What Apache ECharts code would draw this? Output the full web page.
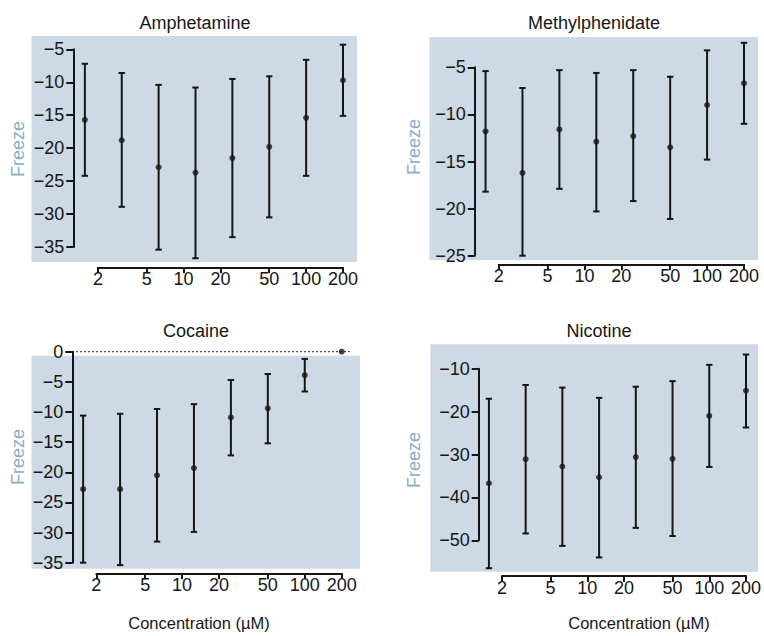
<!DOCTYPE html>
<html>
<head>
<meta charset="utf-8">
<script src="https://cdn.jsdelivr.net/npm/echarts@6/dist/echarts.min.js"></script>
<style>
  html, body { margin: 0; padding: 0; background: #ffffff; }
  #chart { width: 764px; height: 636px; }
</style>
</head>
<body>
<div id="chart"></div>
<script>
// Concentrations (µM) and tick labels shared by all four panels
const concentrations = [1.5625, 3.125, 6.25, 12.5, 25, 50, 100, 200];
const xTickLabels = [2, 5, 10, 20, 50, 100, 200];

// Freeze response: mean with upper / lower error limits
const amphetamineMean  = [-15.7, -18.8, -22.9, -23.7, -21.5, -19.8, -15.4, -9.7];
const amphetamineUpper = [-7.2, -8.6, -10.4, -10.8, -9.5, -9.1, -6.6, -4.3];
const amphetamineLower = [-24.2, -28.9, -35.4, -36.7, -33.5, -30.5, -24.2, -15.1];
const amphetamineYTicks = [-35, -30, -25, -20, -15, -10, -5];

const methylphenidateMean  = [-11.8, -16.2, -11.6, -12.9, -12.3, -13.5, -9.0, -6.7];
const methylphenidateUpper = [-5.4, -7.2, -5.3, -5.6, -5.3, -6.0, -3.2, -2.4];
const methylphenidateLower = [-18.2, -25.0, -17.9, -20.3, -19.2, -21.1, -14.8, -11.0];
const methylphenidateYTicks = [-25, -20, -15, -10, -5];

const cocaineMean  = [-22.8, -22.8, -20.5, -19.3, -10.9, -9.4, -3.9, 0];
const cocaineUpper = [-10.6, -10.3, -9.5, -8.7, -4.7, -3.7, -1.2, 0];
const cocaineLower = [-35.0, -35.4, -31.5, -29.9, -17.2, -15.2, -6.6, 0];
const cocaineYTicks = [-35, -30, -25, -20, -15, -10, -5, 0];

const nicotineMean  = [-36.7, -31.1, -32.8, -35.3, -30.6, -31.0, -21.0, -15.1];
const nicotineUpper = [-17.0, -13.8, -14.4, -16.8, -14.2, -12.9, -9.1, -6.7];
const nicotineLower = [-56.5, -48.4, -51.3, -54.0, -47.1, -49.0, -32.9, -23.7];
const nicotineYTicks = [-50, -40, -30, -20, -10];

const yAxisTitle = 'Freeze';
const xAxisTitle = 'Concentration (µM)';

// Styling
const FONT = '"Liberation Sans", Arial, Helvetica, sans-serif';
const INK = '#161616';
const PANEL_BG = '#cdd9e5';
const NAME_COLOR = '#8badc5';
const TICK_FONT = 18;

// Panel geometry (pixels): background box, plot box spanned by the axes, axis line positions
const panels = [
  { title: 'Amphetamine', mean: amphetamineMean, upper: amphetamineUpper, lower: amphetamineLower, yTicks: amphetamineYTicks,
    bg: [31.5, 36, 357, 262], plot: [98, 49.3, 343, 247], yLineX: 73.3, xLineY: 267.3,
    titlePos: [195, 23], yNamePos: [18, 149], xNamePos: null, zeroLine: false },
  { title: 'Methylphenidate', mean: methylphenidateMean, upper: methylphenidateUpper, lower: methylphenidateLower, yTicks: methylphenidateYTicks,
    bg: [429.5, 37, 758, 260], plot: [498.7, 67.3, 744, 255.7], yLineX: 474.7, xLineY: 264.3,
    titlePos: [594, 23], yNamePos: [414, 147], xNamePos: null, zeroLine: false },
  { title: 'Cocaine', mean: cocaineMean, upper: cocaineUpper, lower: cocaineLower, yTicks: cocaineYTicks,
    bg: [31.5, 355.7, 360, 568.7], plot: [96.3, 351.7, 341.7, 562.7], yLineX: 72.3, xLineY: 573.3,
    titlePos: [196, 331], yNamePos: [18, 457], xNamePos: [199, 623], zeroLine: true },
  { title: 'Nicotine', mean: nicotineMean, upper: nicotineUpper, lower: nicotineLower, yTicks: nicotineYTicks,
    bg: [430.3, 344.3, 758, 571.7], plot: [502, 368.7, 746.5, 540.3], yLineX: 478.7, xLineY: 576,
    titlePos: [599, 331], yNamePos: [414, 460], xNamePos: [639, 623], zeroLine: false }
];

const chart = echarts.init(document.getElementById('chart'), null, { renderer: 'svg' });

const option = {
  animation: false,
  backgroundColor: '#ffffff',
  grid: [], xAxis: [], yAxis: [], series: [], graphic: []
};

const logTicks = xTickLabels.map(v => Math.log10(v));

function textEl(text, x, y, size, color, rotation) {
  return {
    type: 'text', x: x, y: y, rotation: rotation || 0, silent: true,
    style: {
      text: text, fill: color, font: size + 'px ' + FONT,
      textAlign: 'center', textVerticalAlign: 'middle',
      align: 'center', verticalAlign: 'middle'
    }
  };
}

panels.forEach(function (p) {
  // shaded background box
  const bgIndex = option.grid.length;
  option.grid.push({
    left: p.bg[0], top: p.bg[1], width: p.bg[2] - p.bg[0], height: p.bg[3] - p.bg[1],
    show: true, backgroundColor: PANEL_BG, borderWidth: 0
  });
  option.xAxis.push({ gridIndex: bgIndex, type: 'value', show: false });
  option.yAxis.push({ gridIndex: bgIndex, type: 'value', show: false });

  // plotting grid whose extents are the labelled axis ranges
  const gIndex = option.grid.length;
  option.grid.push({
    left: p.plot[0], top: p.plot[1], width: p.plot[2] - p.plot[0], height: p.plot[3] - p.plot[1]
  });
  const xIndex = option.xAxis.length;
  option.xAxis.push({
    gridIndex: gIndex, type: 'value',
    min: Math.log10(xTickLabels[0]), max: Math.log10(xTickLabels[xTickLabels.length - 1]),
    position: 'bottom', offset: p.xLineY - p.plot[3],
    axisLine: { show: true, onZero: false, lineStyle: { color: INK, width: 2 } },
    axisTick: { show: true, length: 6, customValues: logTicks, lineStyle: { color: INK, width: 2 } },
    axisLabel: {
      customValues: logTicks, margin: 3, color: INK, fontSize: TICK_FONT, fontFamily: FONT,
      formatter: v => String(Math.round(Math.pow(10, v)))
    },
    splitLine: { show: false }
  });
  const yIndex = option.yAxis.length;
  option.yAxis.push({
    gridIndex: gIndex, type: 'value',
    min: p.yTicks[0], max: p.yTicks[p.yTicks.length - 1], interval: p.yTicks[1] - p.yTicks[0],
    position: 'left', offset: p.plot[0] - p.yLineX,
    axisLine: { show: true, onZero: false, lineStyle: { color: INK, width: 2 } },
    axisTick: { show: true, length: 7, lineStyle: { color: INK, width: 2 } },
    axisLabel: {
      margin: 9, color: INK, fontSize: TICK_FONT, fontFamily: FONT,
      formatter: v => String(v).replace('-', '\u2212')
    },
    splitLine: { show: false }
  });

  const xs = concentrations.map(c => Math.log10(c));

  if (p.zeroLine) {
    // dotted reference line at zero
    option.series.push({
      type: 'custom', xAxisIndex: xIndex, yAxisIndex: yIndex, clip: false, silent: true, z: 1,
      data: [[Math.log10(xTickLabels[xTickLabels.length - 1]), 0]],
      renderItem: function (params, api) {
        const pt = api.coord([api.value(0), api.value(1)]);
        return {
          type: 'line',
          shape: { x1: p.yLineX, y1: pt[1], x2: pt[0] + 8, y2: pt[1] },
          style: { stroke: INK, lineWidth: 1.3, lineDash: [1.5, 2.5] }
        };
      }
    });
  }

  // error bars
  option.series.push({
    type: 'custom', xAxisIndex: xIndex, yAxisIndex: yIndex, clip: false, silent: true, z: 2,
    data: xs.map((x, k) => [x, p.lower[k], p.upper[k]]),
    encode: { x: 0, y: [1, 2] },
    renderItem: function (params, api) {
      const lo = api.value(1), hi = api.value(2);
      if (lo === hi) return { type: 'group', children: [] };
      const a = api.coord([api.value(0), hi]);
      const b = api.coord([api.value(0), lo]);
      const cap = 3.2;
      const st = { stroke: INK, lineWidth: 2 };
      return {
        type: 'group',
        children: [
          { type: 'line', shape: { x1: a[0], y1: a[1], x2: b[0], y2: b[1] }, style: st },
          { type: 'line', shape: { x1: a[0] - cap, y1: a[1], x2: a[0] + cap, y2: a[1] }, style: st },
          { type: 'line', shape: { x1: b[0] - cap, y1: b[1], x2: b[0] + cap, y2: b[1] }, style: st }
        ]
      };
    }
  });

  // means
  option.series.push({
    type: 'scatter', xAxisIndex: xIndex, yAxisIndex: yIndex, clip: false, silent: true, z: 3,
    symbol: 'circle', symbolSize: 6,
    itemStyle: { color: INK },
    data: xs.map((x, k) => [x, p.mean[k]])
  });

  option.graphic.push(textEl(p.title, p.titlePos[0], p.titlePos[1], 18, INK));
  option.graphic.push(textEl(yAxisTitle, p.yNamePos[0], p.yNamePos[1], 18, NAME_COLOR, Math.PI / 2));
  if (p.xNamePos) option.graphic.push(textEl(xAxisTitle, p.xNamePos[0], p.xNamePos[1], 16.5, INK));
});

chart.setOption(option);
</script>
</body>
</html>
